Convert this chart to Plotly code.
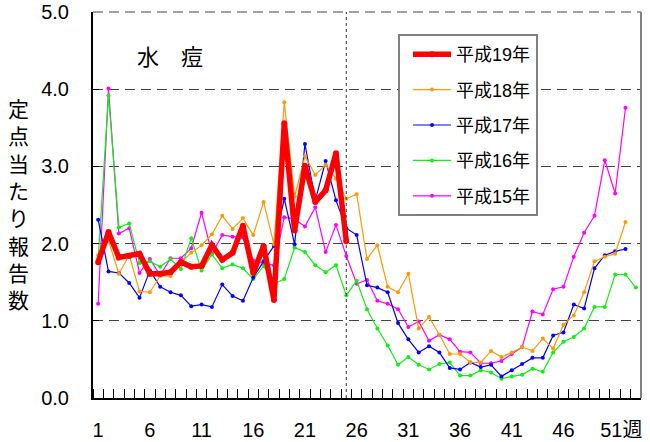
import plotly.graph_objects as go

weeks = list(range(1, 54))
tick_weeks = [1, 6, 11, 16, 21, 26, 31, 36, 41, 46, 51]
tick_labels = ["1", "6", "11", "16", "21", "26", "31", "36", "41", "46", "51週"]

h19 = [1.76, 2.15, 1.82, 1.84, 1.87, 1.61, 1.61, 1.63, 1.76, 1.70, 1.71, 1.98, 1.79,
       1.88, 2.23, 1.62, 1.97, 1.27, 3.56, 2.17, 3.01, 2.54, 2.69, 3.17, 2.03]
h18 = [1.85, 2.04, 1.61, 1.85, 1.38, 1.37, 1.58, 1.58, 1.76, 1.88, 1.98, 2.12, 2.36,
       2.19, 2.33, 2.11, 2.54, 1.99, 3.83, 2.61, 3.13, 2.89, 3.02, 2.84, 2.58, 2.64,
       1.80, 1.98, 1.44, 1.37, 1.61, 0.90, 1.05, 0.82, 0.57, 0.57, 0.46, 0.46, 0.61,
       0.53, 0.59, 0.66, 0.61, 0.77, 0.64, 0.95, 1.07, 1.37, 1.77, 1.83, 1.87, 2.28]
h17 = [2.31, 1.64, 1.62, 1.49, 1.30, 1.65, 1.44, 1.37, 1.33, 1.19, 1.21, 1.18, 1.47,
       1.32, 1.26, 1.56, 1.77, 1.97, 2.58, 1.99, 3.29, 2.56, 3.07, 2.56, 2.20, 2.11,
       1.46, 1.43, 1.37, 0.97, 0.76, 0.59, 0.67, 0.59, 0.39, 0.37, 0.46, 0.40, 0.43,
       0.28, 0.36, 0.44, 0.52, 0.52, 0.81, 0.85, 1.21, 1.16, 1.68, 1.85, 1.90, 1.93]
h16 = [1.80, 3.92, 2.21, 2.26, 1.75, 1.77, 1.70, 1.80, 1.67, 2.07, 1.65, 1.86, 1.68,
       1.73, 1.68, 1.54, 1.71, 1.48, 1.54, 1.95, 1.89, 1.72, 1.63, 1.72, 1.33, 1.52,
       1.15, 0.90, 0.68, 0.43, 0.53, 0.43, 0.37, 0.44, 0.46, 0.29, 0.29, 0.36, 0.33,
       0.25, 0.28, 0.30, 0.38, 0.34, 0.59, 0.73, 0.79, 0.90, 1.18, 1.18, 1.60, 1.60, 1.43]
h15 = [1.22, 4.01, 2.13, 2.20, 1.62, 1.80, 1.59, 1.81, 1.81, 1.94, 2.40, 1.87, 2.11,
       2.09, 2.08, 1.78, 1.75, 1.72, 2.34, 2.32, 2.22, 2.47, 1.89, 2.24, 1.84, 1.48,
       1.53, 1.26, 1.22, 1.15, 0.92, 0.99, 0.74, 0.82, 0.76, 0.60, 0.59, 0.45, 0.45,
       0.48, 0.57, 0.66, 1.12, 1.08, 1.41, 1.44, 1.83, 2.14, 2.36, 3.08, 2.65, 3.76]

series = [
    ("平成15年", h15, "#FF00FF", 1.2, 4, 5),
    ("平成16年", h16, "#11EE11", 1.2, 4, 4),
    ("平成17年", h17, "#0000FF", 1.2, 4, 3),
    ("平成18年", h18, "#FF9900", 1.2, 4, 2),
    ("平成19年", h19, "#FF0000", 5.5, 6, 1),
]

fig = go.Figure()
for name, vals, color, lw, ms, rank in series:
    fig.add_trace(go.Scatter(
        x=weeks[:len(vals)], y=vals, name=name, legendgroup=name, legendrank=rank,
        mode="lines+markers",
        line=dict(color=color, width=lw),
        marker=dict(color=color, size=ms, symbol="circle"),
    ))

current_week = weeks[len(h19) - 1]
fig.add_shape(type="line", xref="x", yref="paper", x0=current_week, x1=current_week,
              y0=0, y1=1, line=dict(color="#555555", width=1.2, dash="dot"))
fig.add_shape(type="line", xref="paper", yref="paper", x0=0, x1=1, y0=1, y1=1,
              line=dict(color="#444444", width=1, dash="10px,6px"))
fig.add_shape(type="line", xref="paper", yref="paper", x0=1, x1=1, y0=0, y1=1,
              line=dict(color="#808080", width=2))

tick_font = dict(family="Liberation Sans, Noto Sans CJK JP, sans-serif", size=20, color="black")
cjk = "Liberation Sans, Noto Sans CJK JP, sans-serif"

label_pos = list(tick_weeks[:-1]) + [tick_weeks[-1] + 0.6]

fig.update_layout(
    width=650, height=442,
    margin=dict(l=93, r=9, t=12, b=44, autoexpand=False),
    paper_bgcolor="white", plot_bgcolor="white",
    showlegend=True,
    legend=dict(
        x=0.5566, y=0.943, xanchor="left", yanchor="top",
        bgcolor="white", bordercolor="#808080", borderwidth=2,
        font=dict(family=cjk, size=18, color="black"),
        traceorder="grouped", tracegroupgap=9,
        itemwidth=38, indentation=8,
    ),
    xaxis=dict(
        range=[0.5, 53.5], tickmode="array", tickvals=label_pos, ticktext=tick_labels,
        ticks="", showgrid=False, zeroline=False, automargin=False,
        showline=True, linecolor="black", linewidth=2,
        tickfont=tick_font, ticklabelstandoff=13,
        minor=dict(tickmode="linear", tick0=0.5, dtick=1, ticks="inside",
                   ticklen=9, tickcolor="black", tickwidth=1, showgrid=False),
    ),
    yaxis=dict(
        range=[0, 5], tickmode="linear", tick0=0, dtick=1, tickformat=".1f",
        ticks="inside", ticklen=6, tickcolor="black", automargin=False,
        showgrid=True, gridcolor="#444444", gridwidth=1, griddash="10px,6px",
        zeroline=False, showline=True, linecolor="black", linewidth=2,
        tickfont=tick_font, ticklabelstandoff=18,
    ),
    annotations=[
        dict(text="水　痘", xref="paper", yref="paper",
             x=(170 - 93) / 548, y=(398 - 55) / 386, xanchor="center", yanchor="middle",
             showarrow=False, font=dict(family="Noto Sans CJK JP", size=22, color="black")),
        dict(text="定<br>点<br>当<br>た<br>り<br>報<br>告<br>数", xref="paper", yref="paper",
             x=(18 - 93) / 548, y=(398 - 203) / 386, xanchor="center", yanchor="middle",
             showarrow=False, font=dict(family="Noto Sans CJK JP", size=21, color="black")),
    ],
)

fig.write_html("out.html", config={"displayModeBar": False},
               post_script="document.body.style.margin='0px';")
